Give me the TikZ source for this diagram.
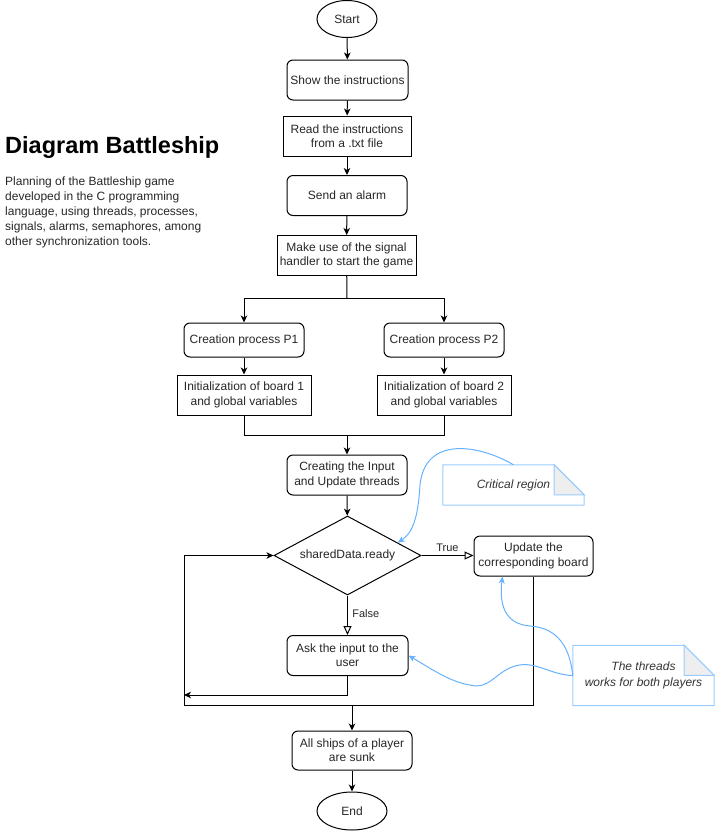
\documentclass[tikz,border=0pt]{standalone}
\usepackage{fontspec}
\setmainfont{Liberation Sans}
\usetikzlibrary{shapes.geometric,arrows.meta,calc}

\definecolor{hintblue}{HTML}{66B2FF}
\definecolor{memoblue}{HTML}{99CCFF}
\definecolor{foldgray}{HTML}{EEEEEE}

\newcommand{\boxfont}{\fontsize{12}{14.4}\selectfont}
\newcommand{\edgefont}{\fontsize{11}{13}\selectfont}
\newcommand{\memofont}{\fontsize{12}{15.5}\selectfont\itshape}

\begin{document}
\begin{tikzpicture}[x=1pt, y=-1pt,
    base/.style={draw=black, line width=1pt, font=\boxfont, text=black!85, align=center, inner sep=0pt},
    proc/.style={base, rectangle, rounded corners=6pt, minimum width=120pt, minimum height=40pt},
    plain/.style={base, rectangle, minimum height=40pt},
    term/.style={base, ellipse, minimum width=60pt, minimum height=37pt},
    choice/.style={base, diamond, aspect=1.86, minimum width=147pt, minimum height=79pt},
    flow/.style={line width=1pt, -{Stealth[length=7pt, width=6.5pt, inset=2pt]}},
    branch/.style={line width=1pt, -{Triangle[open, length=9pt, width=8pt]}},
    link/.style={line width=1pt},
    memo/.style={font=\memofont, text=black!80, align=center, inner sep=0pt, minimum width=141pt},
    hint/.style={draw=hintblue, line width=1pt, -{Stealth[length=7pt, width=6pt, inset=2pt]}}]
    \useasboundingbox (0,0) rectangle (715,831);

    % title and description
    \node[anchor=base west, inner sep=0pt, font=\fontsize{23.5}{28}\selectfont\bfseries] (title) at (5,153) {Diagram Battleship};
    \node[anchor=north west, inner sep=0pt, align=left, font=\fontsize{12}{15}\selectfont, text=black!85] (about) at (5,177)
        {Planning of the Battleship game\\developed in the C programming\\language, using threads, processes,\\signals, alarms, semaphores, among\\other synchronization tools.};

    % main flow
    \node[term] (start) at (347,19) {Start};
    \node[proc, minimum width=121pt] (show) at (347.5,80) {Show the instructions};
    \node[plain, minimum width=128pt] (read) at (347,136) {Read the instructions\\from a .txt file};
    \node[proc] (send) at (347,195.5) {Send an alarm};
    \node[plain, minimum width=139pt] (make) at (346.5,255.5) {Make use of the signal\\handler to start the game};

    \node[proc, minimum height=34pt] (p1) at (244,340) {Creation process P1};
    \node[proc, minimum height=34pt] (p2) at (444,340) {Creation process P2};
    \node[plain, minimum width=134pt] (init1) at (244,395) {Initialization of board 1\\and global variables};
    \node[plain, minimum width=134pt] (init2) at (444,395) {Initialization of board 2\\and global variables};

    \node[proc] (threads) at (347,475) {Creating the Input\\and Update threads};
    \node[choice] (ready) at (347.5,555.5) {sharedData.ready};
    \node[proc, minimum width=119pt] (update) at (533.5,556) {Update the\\corresponding board};
    \node[proc, minimum width=121pt] (ask) at (347.5,655.5) {Ask the input to the\\user};
    \node[proc, minimum height=39pt] (ships) at (352,750.5) {All ships of a player\\are sunk};
    \node[term, minimum width=70pt, minimum height=38pt] (end) at (352,811) {End};

    \coordinate (split) at (347,298);
    \coordinate (join) at (347,435);
    \coordinate (loopbl) at (184,705);
    \coordinate (askret) at (184,695);
    \coordinate (exit) at (352,705);

    \draw[flow] (start) -- (show);
    \draw[flow] (show) -- (read);
    \draw[flow] (read) -- (send);
    \draw[flow] (send) -- (make);
    \draw[link] (make) -- (split);
    \draw[flow] (split) -| (p1);
    \draw[flow] (split) -| (p2);
    \draw[flow] (p1) -- (init1);
    \draw[flow] (p2) -- (init2);
    \draw[link] (init1) |- (join);
    \draw[link] (init2) |- (join);
    \draw[flow] (join) -- (threads);
    \draw[flow] (threads) -- (ready);

    \draw[branch] (ready.east) -- node[above, font=\edgefont, text=black!85, pos=0.5] (yes) {True} (ready.east -| update.west);
    \draw[branch] (ready) -- node[right, font=\edgefont, text=black!85, pos=0.45, xshift=1pt] (no) {False} (ask);

    % loop back
    \draw[flow] (update) |- (loopbl) |- (ready.west);
    \draw[flow] (ask) |- (askret);
    \draw[flow] (exit) -- (ships);
    \draw[flow] (ships) -- (end);

    % notes
    \node[memo, minimum height=40pt] (crit) at (513.5,485) {Critical region};
    \draw[memoblue, line width=1pt] (crit.north west) -- ([xshift=-30pt]crit.north east) -- ([yshift=-30pt]crit.north east) -- (crit.south east) -- (crit.south west) -- cycle;
    \draw[memoblue, line width=1pt, fill=foldgray] ([xshift=-30pt]crit.north east) -- ([xshift=-30pt, yshift=-30pt]crit.north east) -- ([yshift=-30pt]crit.north east) -- cycle;

    \node[memo, minimum height=60pt] (thr) at (643.5,675.5) {The threads\\works for both players};
    \draw[memoblue, line width=1pt] (thr.north west) -- ([xshift=-30pt]thr.north east) -- ([yshift=-30pt]thr.north east) -- (thr.south east) -- (thr.south west) -- cycle;
    \draw[memoblue, line width=1pt, fill=foldgray] ([xshift=-30pt]thr.north east) -- ([xshift=-30pt, yshift=-30pt]thr.north east) -- ([yshift=-30pt]thr.north east) -- cycle;

    \draw[hint] (crit.north) .. controls (480,445) and (425,435) .. (420,485) .. controls (418,520) and (412,533) .. ($(ready.north)!0.68!(ready.east)$);
    \draw[hint] (thr.west) .. controls (550,675) and (535,660) .. (515,666) .. controls (495,672) and (490,690) .. (470,685) .. controls (450,682) and (430,668) .. (ask.east);
    \draw[hint] (thr.west) .. controls (570,650) and (560,628) .. (530,626) .. controls (505,624) and (499,605) .. ([xshift=-31pt]update.south);
\end{tikzpicture}
\end{document}
